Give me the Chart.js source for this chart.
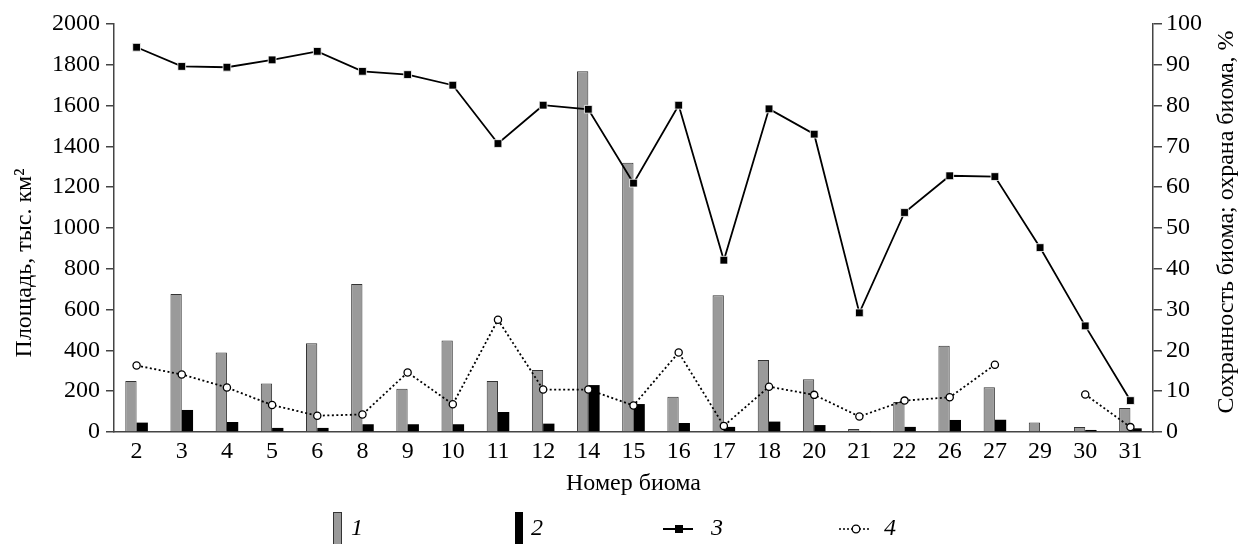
<!DOCTYPE html>
<html>
<head>
<meta charset="utf-8">
<script src="https://cdn.jsdelivr.net/npm/chart.js@4.4.0/dist/chart.umd.min.js"></script>
<style>
  html, body { margin: 0; padding: 0; background: #fff; }
  #wrap { width: 1239px; height: 544px; position: relative; }
</style>
</head>
<body>
<div id="wrap"><canvas id="biomeChart"></canvas></div>
<script>
const biomes = ['2', '3', '4', '5', '6', '8', '9', '10', '11', '12', '14', '15', '16', '17', '18', '20', '21', '22', '26', '27', '29', '30', '31'];
// 1 - площадь биома, тыс. км2
const biomeArea = [250, 676, 390, 238, 435, 725, 212, 448, 250, 304, 1768, 1320, 173, 670, 353, 258, 15, 147, 423, 219, 47, 24, 118];
// 2 - охраняемая площадь, тыс. км2
const protectedArea = [46, 108, 49, 20, 20, 38, 38, 38, 98, 41, 230, 137, 44, 25, 51, 34, 5, 25, 59, 60, null, 10, 18];
// 3 - сохранность биома, %
const preservation = [94.3, 89.6, 89.4, 91.2, 93.3, 88.4, 87.6, 85.0, 70.7, 80.1, 79.1, 61.0, 80.1, 42.1, 79.2, 73.0, 29.2, 53.8, 62.8, 62.6, 45.2, 26.0, 7.7];
// 4 - охрана биома, %
const protection = [16.3, 14.1, 10.9, 6.6, 4.0, 4.3, 14.6, 6.8, 27.5, 10.4, 10.4, 6.5, 19.5, 1.5, 11.1, 9.1, 3.8, 7.7, 8.5, 16.5, null, 9.2, 1.2];

const legendLabels = ['1', '2', '3', '4'];
const xTitle = 'Номер биома';
const leftTitle = 'Площадь, тыс. км²';
const rightTitle = 'Сохранность биома; охрана биома, %';

const serif = '"Liberation Serif", "Times New Roman", serif';
const axisColor = '#444';

const titlesAndLegend = {
  id: 'titlesAndLegend',
  afterDraw(chart) {
    const ctx = chart.ctx;
    const ds = chart.data.datasets;
    ctx.save();
    ctx.fillStyle = '#000';
    ctx.font = '24px ' + serif;
    ctx.textAlign = 'center';
    ctx.textBaseline = 'middle';

    ctx.save();
    ctx.translate(25, 263);
    ctx.rotate(-Math.PI / 2);
    ctx.fillText(leftTitle, 0, 0);
    ctx.restore();

    ctx.save();
    ctx.translate(1227, 222);
    ctx.rotate(-Math.PI / 2);
    ctx.fillText(rightTitle, 0, 0);
    ctx.restore();

    // legend
    const ly = 529;
    ctx.font = 'italic 24px ' + serif;
    ctx.textAlign = 'left';

    ctx.fillStyle = ds[0].backgroundColor;
    ctx.strokeStyle = ds[0].borderColor;
    ctx.lineWidth = 1;
    ctx.fillRect(333, 512, 8, 34);
    ctx.strokeRect(333.5, 512.5, 8, 34);
    ctx.fillStyle = '#000';
    ctx.fillText(legendLabels[0], 351, ly);

    ctx.fillStyle = ds[1].backgroundColor;
    ctx.fillRect(515, 512, 8, 34);
    ctx.fillStyle = '#000';
    ctx.fillText(legendLabels[1], 531, ly);

    ctx.strokeStyle = '#000';
    ctx.lineWidth = 2;
    ctx.beginPath();
    ctx.moveTo(663, ly);
    ctx.lineTo(693, ly);
    ctx.stroke();
    ctx.fillRect(675, ly - 4, 8, 8);
    ctx.fillText(legendLabels[2], 711, ly);

    ctx.lineWidth = 1.6;
    ctx.setLineDash([2, 2]);
    ctx.beginPath();
    ctx.moveTo(839, ly);
    ctx.lineTo(870, ly);
    ctx.stroke();
    ctx.setLineDash([]);
    ctx.beginPath();
    ctx.arc(856, ly, 3.8, 0, Math.PI * 2);
    ctx.fillStyle = '#fff';
    ctx.fill();
    ctx.lineWidth = 1.3;
    ctx.stroke();
    ctx.fillStyle = '#000';
    ctx.fillText(legendLabels[3], 884, ly);

    ctx.restore();
  }
};

new Chart(document.getElementById('biomeChart').getContext('2d'), {
  type: 'bar',
  data: {
    labels: biomes,
    datasets: [
      {
        label: legendLabels[0],
        data: biomeArea,
        backgroundColor: '#9a9a9a',
        borderColor: '#333',
        borderWidth: 1,
        categoryPercentage: 0.5,
        barPercentage: 1,
        yAxisID: 'y',
        order: 2
      },
      {
        label: legendLabels[1],
        data: protectedArea,
        backgroundColor: '#000',
        borderColor: '#000',
        borderWidth: 0,
        categoryPercentage: 0.5,
        barPercentage: 1,
        yAxisID: 'y',
        order: 2
      },
      {
        type: 'line',
        label: legendLabels[2],
        data: preservation,
        borderColor: '#000',
        borderWidth: 1.8,
        tension: 0,
        pointStyle: 'rect',
        pointRadius: 5.5,
        pointBackgroundColor: '#000',
        pointBorderColor: '#fff',
        pointBorderWidth: 0.8,
        yAxisID: 'y2',
        order: 0
      },
      {
        type: 'line',
        label: legendLabels[3],
        data: protection,
        borderColor: '#000',
        borderWidth: 1.8,
        borderDash: [2, 2.5],
        tension: 0,
        spanGaps: false,
        pointStyle: 'circle',
        pointRadius: 3.6,
        pointBackgroundColor: '#fff',
        pointBorderColor: '#000',
        pointBorderWidth: 1.3,
        yAxisID: 'y2',
        order: 1
      }
    ]
  },
  options: {
    responsive: true,
    maintainAspectRatio: false,
    animation: false,
    layout: { padding: { top: 24, bottom: 41.6, left: 0, right: 0 } },
    plugins: {
      legend: { display: false },
      tooltip: { enabled: false }
    },
    scales: {
      x: {
        grid: { display: false },
        border: { display: true, color: axisColor, width: 1.5 },
        ticks: {
          color: '#000',
          font: { family: serif, size: 24 },
          padding: -3,
          maxRotation: 0,
          autoSkip: false
        },
        title: {
          display: true,
          text: xTitle,
          color: '#000',
          font: { family: serif, size: 24 },
          padding: { top: 9, bottom: 4 }
        },
        afterFit: s => { s.height = 70.4; }
      },
      y: {
        position: 'left',
        min: 0,
        max: 2000,
        ticks: {
          stepSize: 200,
          color: '#000',
          font: { family: serif, size: 24 },
          padding: 6,
          callback: v => String(v)
        },
        grid: { drawOnChartArea: false, drawTicks: true, tickLength: 8, color: axisColor, lineWidth: 1.5 },
        border: { display: true, color: axisColor, width: 1.5 },
        afterFit: s => { s.width = 114; }
      },
      y2: {
        position: 'right',
        min: 0,
        max: 100,
        ticks: {
          stepSize: 10,
          color: '#000',
          font: { family: serif, size: 24 },
          padding: 4,
          callback: v => String(v)
        },
        grid: { drawOnChartArea: false, drawTicks: true, tickLength: 9, color: axisColor, lineWidth: 1.5 },
        border: { display: true, color: axisColor, width: 1.5 },
        afterFit: s => { s.width = 86; }
      }
    }
  },
  plugins: [titlesAndLegend]
});
</script>
</body>
</html>
